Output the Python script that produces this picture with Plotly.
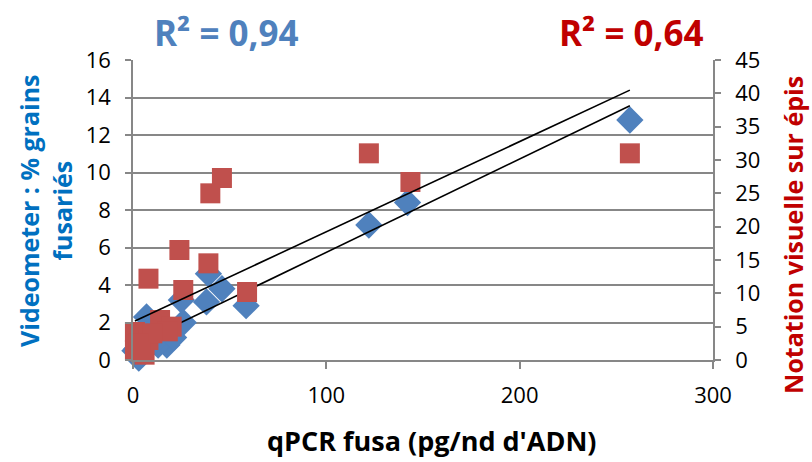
import numpy as np
import plotly.graph_objects as go

# qPCR (x) vs Videometer % grains fusariés (left axis)
video_x = [257, 142, 122, 58.5, 46, 39, 38, 25, 26, 17.5, 7, 3, 13, 21, 2, 5, 10, 1, 4]
video_y = [12.8, 8.4, 7.2, 2.9, 3.8, 4.6, 3.1, 3.2, 2.0, 0.8, 2.3, 0.1, 0.8, 1.2, 0.6, 0.4, 0.9, 0.5, 0.6]

# qPCR (x) vs Notation visuelle sur épis (right axis)
notation_x = [257, 122, 143.5, 40, 46, 24, 39, 8, 26, 59, 14, 20, 18, 1, 2, 6, 8, 3, 10, 1, 3, 4]
notation_y = [31, 31, 26.7, 25, 27.3, 16.5, 14.5, 12.2, 10.5, 10.2, 6, 5, 4.3, 4.2, 2.3, 0.8, 3, 1.5, 4, 1.5, 2.5, 1.2]

left_ticks = [0, 2, 4, 6, 8, 10, 12, 14, 16]
right_ticks = [0, 5, 10, 15, 20, 25, 30, 35, 40, 45]
x_ticks = [0, 100, 200, 300]

r2_video = "R² = 0,94"
r2_notation = "R² = 0,64"

BLUE = "#4F81BD"
RED = "#C0504D"
GRID = "#878787"
FONT = "Open Sans"

fig = go.Figure()

# trendlines (linear least squares)
def trend(xs, ys):
    xs = np.asarray(xs, float); ys = np.asarray(ys, float)
    k, b = np.polyfit(xs, ys, 1)
    xx = np.array([xs.min(), xs.max()])
    return xx, k * xx + b

fig.add_trace(go.Scatter(x=video_x, y=video_y, mode="markers",
                         marker=dict(symbol="diamond", size=21, color=BLUE),
                         cliponaxis=False, showlegend=False))
fig.add_trace(go.Scatter(x=notation_x, y=notation_y, mode="markers", yaxis="y2",
                         marker=dict(symbol="square", size=20, color=RED),
                         cliponaxis=False, showlegend=False))
tx, ty = trend(video_x, video_y)
fig.add_trace(go.Scatter(x=tx, y=ty, mode="lines", line=dict(color="black", width=1.6),
                         showlegend=False))
tx2, ty2 = trend(notation_x, notation_y)
fig.add_trace(go.Scatter(x=tx2, y=ty2, mode="lines", yaxis="y2",
                         line=dict(color="black", width=1.6), showlegend=False))

fig.update_layout(
    width=812, height=462,
    margin=dict(l=133, r=99, t=60, b=102),
    paper_bgcolor="white", plot_bgcolor="white",
    font=dict(family=FONT, size=22, color="black"),
    xaxis=dict(range=[0, 300], tickvals=x_ticks, showgrid=False, zeroline=False,
               showline=True, linecolor=GRID, linewidth=1.5,
               ticks="outside", ticklen=7, tickcolor=GRID, tickwidth=1.5,
               ticklabelstandoff=8),
    yaxis=dict(range=[0, 16], tickvals=left_ticks, showgrid=True, gridcolor=GRID, gridwidth=1.5,
               zeroline=False, showline=True, linecolor=GRID, linewidth=1.5,
               ticks="outside", ticklen=6, tickcolor=GRID, tickwidth=1.5,
               ticklabelstandoff=10),
    yaxis2=dict(range=[0, 45], tickvals=right_ticks, overlaying="y", side="right",
                showgrid=False, zeroline=False, showline=True, linecolor=GRID, linewidth=1.5,
                ticks="outside", ticklen=6, tickcolor=GRID, tickwidth=1.5,
                ticklabelstandoff=10),
)

annotations = [
    dict(text=r2_video, x=0.162, y=1.093, font=dict(size=35, color=BLUE, family=FONT, weight="bold")),
    dict(text=r2_notation, x=0.859, y=1.093, font=dict(size=35, color="#C00000", family=FONT, weight="bold")),
    dict(text="Videometer : % grains<br>fusariés", x=-0.15, y=0.497, textangle=-90,
         font=dict(size=25, color="#0070C0", family=FONT, weight="bold")),
    dict(text="Notation visuelle sur épis", x=1.138, y=0.417, textangle=-90,
         font=dict(size=25, color="#C00000", family=FONT, weight="bold")),
    dict(text="qPCR fusa (pg/nd d'ADN)", x=0.515, y=-0.267,
         font=dict(size=27, color="black", family=FONT, weight="bold")),
]
for a in annotations:
    fig.add_annotation(xref="paper", yref="paper", showarrow=False,
                       xanchor="center", yanchor="middle", **a)

fig.write_html("out.html")
